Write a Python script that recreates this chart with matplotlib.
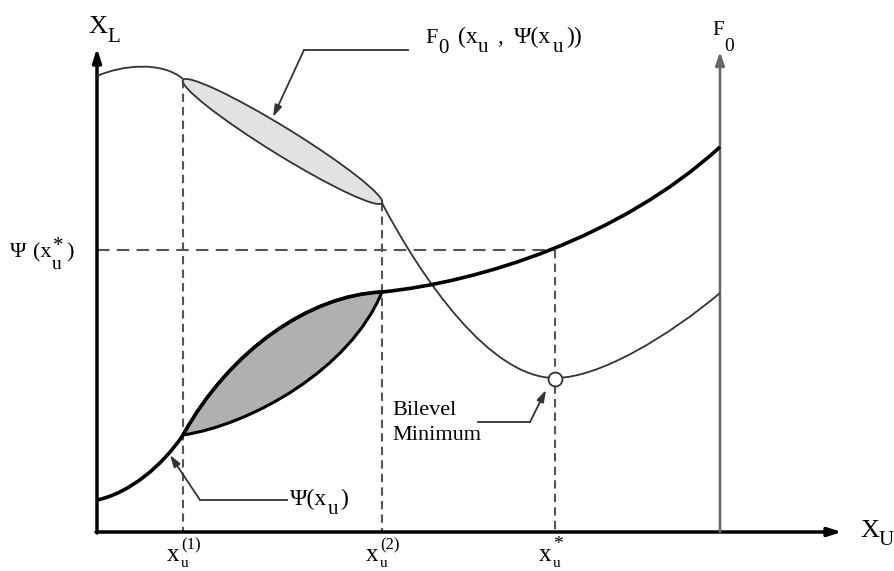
import matplotlib
matplotlib.use("Agg")
import matplotlib.pyplot as plt
from matplotlib.path import Path
from matplotlib.patches import PathPatch, Ellipse

plt.rcParams['font.family'] = ['Liberation Serif', 'DejaVu Serif']

# picture is drawn in pixel units (x right, y down)
# x positions of x_u(1), x_u(2), x_u*
x_marks = [183, 382, 555]
x_sups = ["(1)", "(2)", "*"]
x_mark_tops = [80, 203, 250]
psi_star = 250

# cubic bezier nodes (start, c1, c2, end, c1, c2, end ...)
f0_left = [(97, 76), (122, 65), (162, 61), (183, 79)]
f0_right = [(382, 203), (422, 279), (490, 378), (555, 378),
            (600, 378), (670, 335), (720, 293)]
psi_curve = [(97, 500), (130, 493), (163, 465), (183, 435),
             (230, 350), (310, 295), (382, 292),
             (480, 282), (620, 238), (720, 147)]
lens_lower = [(183, 435), (250, 425), (350, 370), (382, 292)]

# light ellipse: centre, length, thickness, angle
ell_center = (282.5, 141.5)
ell_len = 234
ell_thick = 27
ell_angle = 31.7

bilevel_min = (555, 379)


def bez(nodes):
    codes = [Path.MOVETO] + [Path.CURVE4] * (len(nodes) - 1)
    return Path(nodes, codes)


fig = plt.figure(figsize=(8.95, 5.71), dpi=100)
ax = fig.add_axes([0, 0, 1, 1])
ax.set_xlim(0, 895)
ax.set_ylim(571, 0)
ax.axis('off')
renderer = fig.canvas.get_renderer()


def rich(x, y, parts):
    # parts: (text, size, dy, gap, advance)
    xmax = x
    for s, size, dy, gap, adv in parts:
        t = ax.text(x + gap, y + dy, s, fontsize=size, va='baseline')
        xmax = max(xmax, t.get_window_extent(renderer).x1)
        if adv:
            x = xmax


dash_v = dict(color='#555555', lw=1.5, dashes=(4, 2.5))
dash_h = dict(color='#555555', lw=1.5, dashes=(6, 3.5))

# dashed guides
for xm, top in zip(x_marks, x_mark_tops):
    ax.plot([xm, xm], [top, 532], **dash_v)
ax.plot([97, x_marks[2]], [psi_star, psi_star], **dash_h)

# axes with arrows
ax.annotate('', xy=(97, 48), xytext=(97, 533),
            arrowprops=dict(arrowstyle='-|>,head_length=0.8,head_width=0.25',
                            color='black', lw=2.5, shrinkA=0, shrinkB=0))
ax.annotate('', xy=(842, 532), xytext=(96, 532),
            arrowprops=dict(arrowstyle='-|>,head_length=0.8,head_width=0.25',
                            color='black', lw=2.5, shrinkA=0, shrinkB=0))
ax.annotate('', xy=(720, 52), xytext=(720, 532),
            arrowprops=dict(arrowstyle='-|>,head_length=0.8,head_width=0.28',
                            color='#666666', lw=1.8, shrinkA=0, shrinkB=0))

# light ellipse
ax.add_patch(Ellipse(ell_center, ell_len, ell_thick, angle=ell_angle,
                     facecolor='#e2e2e2', edgecolor='#333333', lw=1.3, zorder=3))

# thin F0 curve
ax.add_patch(PathPatch(bez(f0_left), fill=False, edgecolor='#333333', lw=1.3, zorder=3))
ax.add_patch(PathPatch(bez(f0_right), fill=False, edgecolor='#333333', lw=1.3, zorder=3))

# dark lens
upper = psi_curve[3:7]
lens = upper + lens_lower[::-1][1:]
lens_codes = [Path.MOVETO] + [Path.CURVE4] * 6
ax.add_patch(PathPatch(Path(lens, lens_codes), facecolor='#b0b0b0',
                       edgecolor='black', lw=2.2, zorder=4))

# thick psi curve
ax.add_patch(PathPatch(bez(psi_curve), fill=False, edgecolor='black', lw=2.6, zorder=5))

# bilevel minimum point
ax.plot(*bilevel_min, 'o', ms=10, mfc='white', mec='#333333', mew=1.3, zorder=6)

# leader lines with arrows
lead = dict(color='#333333', lw=1.3)
arr = dict(arrowstyle='-|>,head_length=0.7,head_width=0.22', color='#333333',
           lw=1.3, shrinkA=0, shrinkB=0)
ax.plot([408, 304], [50, 50], **lead)
ax.annotate('', xy=(273, 117), xytext=(304, 50), arrowprops=arr)
ax.plot([287, 200], [500, 500], **lead)
ax.annotate('', xy=(170, 455), xytext=(200, 500), arrowprops=arr)
ax.plot([478, 530], [422, 422], **lead)
ax.annotate('', xy=(546, 390), xytext=(530, 422), arrowprops=arr)

# texts
rich(88, 33, [("X", 19, 0, 0, True), ("L", 15, 9, 0, True)])
rich(860, 537, [("X", 19, 0, 0, True), ("U", 15, 8, 0, True)])
rich(712, 35, [("F", 15, 0, 0, True), ("0", 14, 16, 1, True)])
rich(425, 43, [("F", 16, 0, 0, True), ("0", 15, 10, 1, True),
               ("(x", 17, 0, 9, True), ("u", 15, 9, 0, True),
               (",", 17, 0, 9, True), ("Ψ(x", 17, 0, 11, True),
               ("u", 15, 9, 2, True), ("))", 17, 0, 3, True)])
rich(10, 257, [("Ψ", 16, 0, 0, True), ("(x", 16, 0, 7, True),
               ("*", 15, -6, 1, False), ("u", 14, 12, 0, True),
               (")", 16, 0, 3, True)])
rich(290, 505, [("Ψ(x", 17, 0, 0, True), ("u", 15, 9, 0, True),
                (")", 17, 0, 2, True)])
ax.text(392, 415, "Bilevel", fontsize=16, va='baseline')
ax.text(392, 440, "Minimum", fontsize=16, va='baseline')
for xm, sup in zip(x_marks, x_sups):
    sup_size = 14 if sup == "*" else 12
    rich(xm - 16, 561, [("x", 18, 0, 0, True), (sup, sup_size, -12, 2, False),
                        ("u", 11, 6, 1, True)])

fig.savefig("out.png", dpi=100)
